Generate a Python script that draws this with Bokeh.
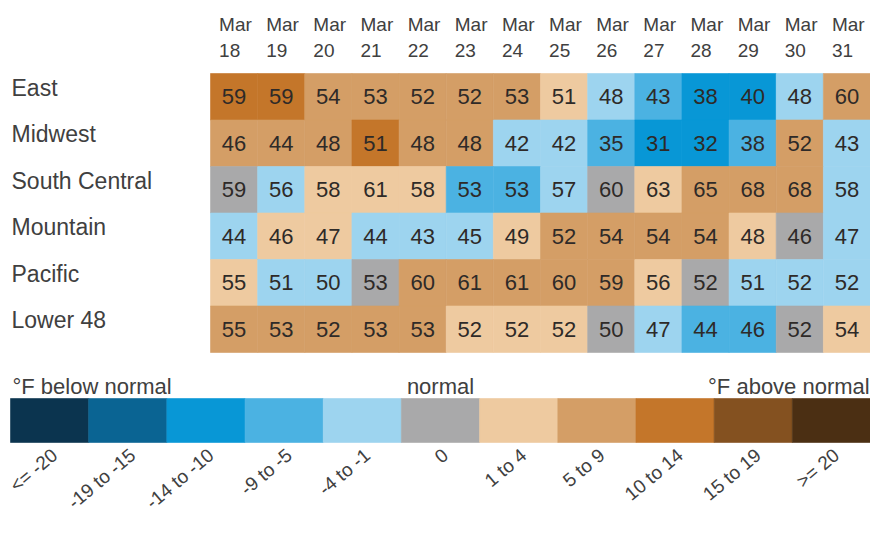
import math
from bokeh.plotting import figure
from bokeh.models import ColumnDataSource, Range1d
from bokeh.layouts import column
from bokeh.embed import file_html
from bokeh.resources import INLINE
from bokeh.core.properties import value

# ---------------- data ----------------
regions = ["East", "Midwest", "South Central", "Mountain", "Pacific", "Lower 48"]
months = ["Mar"] * 14
days = ["18", "19", "20", "21", "22", "23", "24", "25", "26", "27", "28", "29", "30", "31"]

temps = {
    "East":          [59, 59, 54, 53, 52, 52, 53, 51, 48, 43, 38, 40, 48, 60],
    "Midwest":       [46, 44, 48, 51, 48, 48, 42, 42, 35, 31, 32, 38, 52, 43],
    "South Central": [59, 56, 58, 61, 58, 53, 53, 57, 60, 63, 65, 68, 68, 58],
    "Mountain":      [44, 46, 47, 44, 43, 45, 49, 52, 54, 54, 54, 48, 46, 47],
    "Pacific":       [55, 51, 50, 53, 60, 61, 61, 60, 59, 56, 52, 51, 52, 52],
    "Lower 48":      [55, 53, 52, 53, 53, 52, 52, 52, 50, 47, 44, 46, 52, 54],
}

# departure-from-normal class of each cell (index into legend_labels)
dep_class = {
    "East":          [8, 8, 7, 7, 7, 7, 7, 6, 4, 3, 2, 2, 4, 7],
    "Midwest":       [7, 7, 7, 8, 7, 7, 4, 4, 3, 2, 2, 3, 7, 4],
    "South Central": [5, 4, 6, 6, 6, 3, 3, 4, 5, 6, 7, 7, 7, 4],
    "Mountain":      [4, 6, 6, 4, 4, 4, 6, 7, 7, 7, 7, 6, 5, 4],
    "Pacific":       [6, 4, 4, 5, 7, 7, 7, 7, 7, 6, 5, 4, 4, 4],
    "Lower 48":      [7, 7, 7, 7, 7, 6, 6, 6, 5, 4, 3, 3, 5, 6],
}

legend_labels = ["<= -20", "-19 to -15", "-14 to -10", "-9 to -5", "-4 to -1", "0",
                 "1 to 4", "5 to 9", "10 to 14", "15 to 19", ">= 20"]
palette = ["#0b344f", "#0a6493", "#0897d6", "#4bb2e2", "#9dd4ef", "#a9a9aa",
           "#eecaa0", "#d49e66", "#c4762a", "#845120", "#4b2f13"]

FONT = value("Liberation Sans")
LABEL_COLOR = "#404040"
NUM_COLOR = "#2e2a28"

# ---------------- heatmap ----------------
xs, ys, fills, nums = [], [], [], []
for r, reg in enumerate(regions):
    for c in range(len(days)):
        xs.append(c)
        ys.append(r)
        fills.append(palette[dep_class[reg][c]])
        nums.append(str(temps[reg][c]))
cells = ColumnDataSource(dict(x=xs, y=ys, fill=fills, num=nums))

W1, H1 = 870, 365
LEFT = 210                      # pixel where the first column starts
CW = (W1 - LEFT) / len(days)    # pixel width of one column
RH = 46.5                       # pixel height of one row
x0 = -(LEFT + CW / 2) / CW
y_top = -(73 + RH / 2) / RH
p1 = figure(width=W1, height=H1, output_backend="svg", toolbar_location=None,
            x_range=Range1d(x0, x0 + W1 / CW),
            y_range=Range1d(y_top + H1 / RH, y_top),
            x_axis_location=None, y_axis_location=None,
            min_border=0, outline_line_color=None, background_fill_color="white",
            border_fill_color="white")
p1.grid.visible = False

p1.rect(x="x", y="y", width=1, height=1, source=cells,
        fill_color="fill", line_color="fill", line_width=0.6)
p1.text(x="x", y="y", text="num", source=cells, text_font=FONT,
        text_font_size=value("22px"), text_color=NUM_COLOR,
        text_align="center", text_baseline="middle")

hdr = ColumnDataSource(dict(x=list(range(len(days))), m=months, d=days))
p1.text(x="x", y=(23.5 - 96.25) / RH, text="m", source=hdr, text_font=FONT,
        text_font_size=value("19px"), text_color=LABEL_COLOR,
        text_align="left", text_baseline="middle", x_offset=-15)
p1.text(x="x", y=(50 - 96.25) / RH, text="d", source=hdr, text_font=FONT,
        text_font_size=value("19px"), text_color=LABEL_COLOR,
        text_align="left", text_baseline="middle", x_offset=-15)

rows = ColumnDataSource(dict(y=list(range(len(regions))), t=regions))
p1.text(x=x0 + 11 / CW, y="y", text="t", source=rows, text_font=FONT,
        text_font_size=value("23px"), text_color=LABEL_COLOR,
        text_align="left", text_baseline="middle", y_offset=-9)

# ---------------- legend ----------------
W2, H2 = 870, 152
TOP2 = H1                       # pixel where the legend figure starts
LX = 10
BW = (W2 - LX) / len(legend_labels)
BH = 44.0
lx0 = -LX / BW
ly_top = 1 + (398 - TOP2) / BH
p2 = figure(width=W2, height=H2, output_backend="svg", toolbar_location=None,
            x_range=Range1d(lx0, lx0 + W2 / BW),
            y_range=Range1d(ly_top - H2 / BH, ly_top),
            x_axis_location=None, y_axis_location=None,
            min_border=0, outline_line_color=None, background_fill_color="white",
            border_fill_color="white")
p2.grid.visible = False

leg = ColumnDataSource(dict(x=[i + 0.5 for i in range(len(legend_labels))],
                            lab=legend_labels, fill=palette))
p2.rect(x="x", y=0.5, width=1, height=1, source=leg,
        fill_color="fill", line_color="fill", line_width=0.6)
p2.text(x="x", y=-(452 - 442) / BH, text="lab", source=leg, text_font=FONT,
        text_font_size=value("19px"), text_color=LABEL_COLOR,
        text_align="right", text_baseline="middle", angle=math.radians(40),
        x_offset=5)

ly = 1 + (398 - 386) / BH
p2.text(x=[(12 - LX) / BW], y=[ly], text=["°F below normal"], text_font=FONT,
        text_font_size=value("22px"), text_color=LABEL_COLOR,
        text_align="left", text_baseline="middle")
p2.text(x=[5.5], y=[ly], text=["normal"], text_font=FONT,
        text_font_size=value("22px"), text_color=LABEL_COLOR,
        text_align="center", text_baseline="middle")
p2.text(x=[lx0 + W2 / BW - 0.01], y=[ly], text=["°F above normal"], text_font=FONT,
        text_font_size=value("22px"), text_color=LABEL_COLOR,
        text_align="right", text_baseline="middle")

layout = column(p1, p2, spacing=0)
open("out.html", "w").write(file_html(layout, INLINE))
